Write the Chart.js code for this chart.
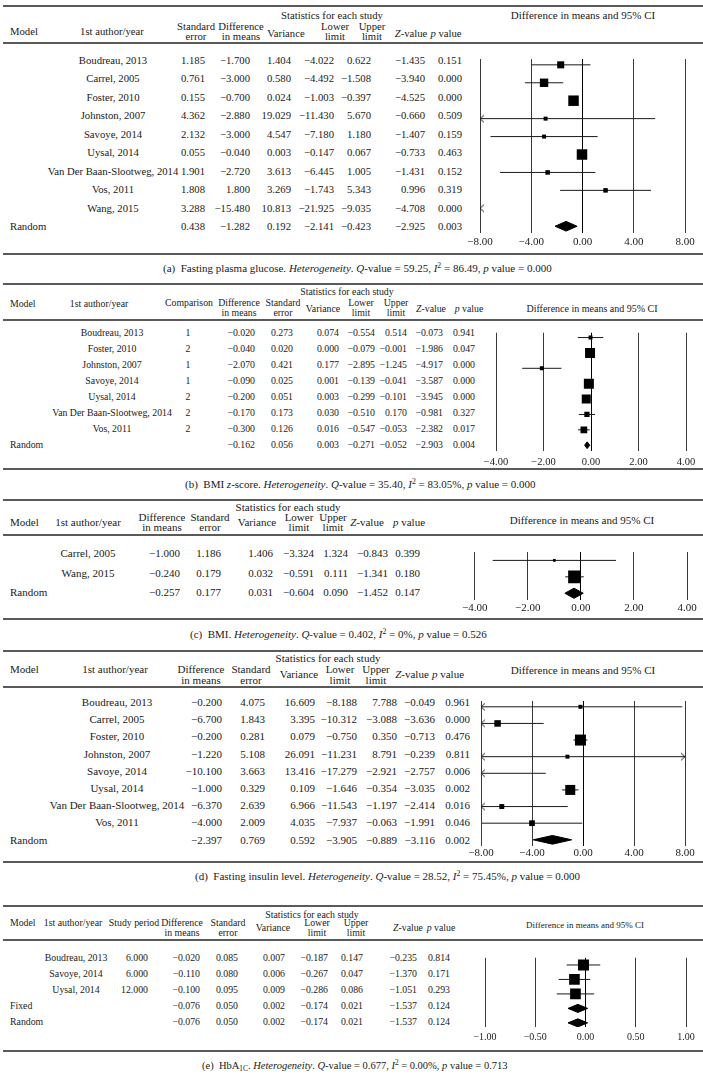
<!DOCTYPE html>
<html><head><meta charset="utf-8">
<script src="https://cdn.jsdelivr.net/npm/chart.js@4.4.0/dist/chart.umd.min.js"></script>
<style>
html,body{margin:0;padding:0;background:#fff;}
#page{position:relative;width:703px;height:1089px;overflow:hidden;font-family:"Liberation Serif","Times New Roman",serif;color:#1a1a1a;background:#fff;}
.t{position:absolute;white-space:nowrap;line-height:1;}
.t sup{font-size:0.7em;vertical-align:0.5em;line-height:0;}
.t sub{font-size:0.7em;vertical-align:-0.25em;line-height:0;}
.rule{position:absolute;left:3px;width:700px;height:1.6px;background:#5a5a5a;}
canvas{position:absolute;}
</style></head><body><div id="page"></div>
<script>
// ---------------- DATA ----------------
// (a) Fasting plasma glucose
const A_AUTHOR = ['Boudreau, 2013','Carrel, 2005','Foster, 2010','Johnston, 2007','Savoye, 2014','Uysal, 2014','Van Der Baan-Slootweg, 2014','Vos, 2011','Wang, 2015'];
const A_SUMMARY = ['Random'];
const A_SE    = [1.185,0.761,0.155,4.362,2.132,0.055,1.901,1.808,3.288,0.438];
const A_DIFF  = [-1.700,-3.000,-0.700,-2.880,-3.000,-0.040,-2.720,1.800,-15.480,-1.282];
const A_VAR   = [1.404,0.580,0.024,19.029,4.547,0.003,3.613,3.269,10.813,0.192];
const A_LOWER = [-4.022,-4.492,-1.003,-11.430,-7.180,-0.147,-6.445,-1.743,-21.925,-2.141];
const A_UPPER = [0.622,-1.508,-0.397,5.670,1.180,0.067,1.005,5.343,-9.035,-0.423];
const A_Z     = [-1.435,-3.940,-4.525,-0.660,-1.407,-0.733,-1.431,0.996,-4.708,-2.925];
const A_P     = [0.151,0.000,0.000,0.509,0.159,0.463,0.152,0.319,0.000,0.003];
const A_WEIGHT = [0.67,0.8,1,0.38,0.38,1,0.43,0.43,0.38];
const A_TICKS = [-8,-4,0,4,8];

// (b) BMI z-score
const B_AUTHOR = ['Boudreau, 2013','Foster, 2010','Johnston, 2007','Savoye, 2014','Uysal, 2014','Van Der Baan-Slootweg, 2014','Vos, 2011'];
const B_SUMMARY = ['Random'];
const B_COMP  = [1,2,1,1,2,2,2,null];
const B_DIFF  = [-0.020,-0.040,-2.070,-0.090,-0.200,-0.170,-0.300,-0.162];
const B_SE    = [0.273,0.020,0.421,0.025,0.051,0.173,0.126,0.056];
const B_VAR   = [0.074,0.000,0.177,0.001,0.003,0.030,0.016,0.003];
const B_LOWER = [-0.554,-0.079,-2.895,-0.139,-0.299,-0.510,-0.547,-0.271];
const B_UPPER = [0.514,-0.001,-1.245,-0.041,-0.101,0.170,-0.053,-0.052];
const B_Z     = [-0.073,-1.986,-4.917,-3.587,-3.945,-0.981,-2.382,-2.903];
const B_P     = [0.941,0.047,0.000,0.000,0.000,0.327,0.017,0.004];
const B_WEIGHT = [0.4,1,0.4,1,0.9,0.53,0.67];
const B_TICKS = [-4,-2,0,2,4];

// (c) BMI
const C_AUTHOR = ['Carrel, 2005','Wang, 2015'];
const C_SUMMARY = ['Random'];
const C_DIFF  = [-1.000,-0.240,-0.257];
const C_SE    = [1.186,0.179,0.177];
const C_VAR   = [1.406,0.032,0.031];
const C_LOWER = [-3.324,-0.591,-0.604];
const C_UPPER = [1.324,0.111,0.090];
const C_Z     = [-0.843,-1.341,-1.452];
const C_P     = [0.399,0.180,0.147];
const C_WEIGHT = [0.21,1];
const C_TICKS = [-4,-2,0,2,4];

// (d) Fasting insulin level
const D_AUTHOR = ['Boudreau, 2013','Carrel, 2005','Foster, 2010','Johnston, 2007','Savoye, 2014','Uysal, 2014','Van Der Baan-Slootweg, 2014','Vos, 2011'];
const D_SUMMARY = ['Random'];
const D_DIFF  = [-0.200,-6.700,-0.200,-1.220,-10.100,-1.000,-6.370,-4.000,-2.397];
const D_SE    = [4.075,1.843,0.281,5.108,3.663,0.329,2.639,2.009,0.769];
const D_VAR   = [16.609,3.395,0.079,26.091,13.416,0.109,6.966,4.035,0.592];
const D_LOWER = [-8.188,-10.312,-0.750,-11.231,-17.279,-1.646,-11.543,-7.937,-3.905];
const D_UPPER = [7.788,-3.088,0.350,8.791,-2.921,-0.354,-1.197,-0.063,-0.889];
const D_Z     = [-0.049,-3.636,-0.713,-0.239,-2.757,-3.035,-2.414,-1.991,-3.116];
const D_P     = [0.961,0.000,0.476,0.811,0.006,0.002,0.016,0.046,0.002];
const D_WEIGHT = [0.36,0.59,1,0.36,0.45,0.91,0.45,0.52];
const D_TICKS = [-8,-4,0,4,8];

// (e) HbA1C
const E_AUTHOR = ['Boudreau, 2013','Savoye, 2014','Uysal, 2014'];
const E_SUMMARY = ['Fixed','Random'];
const E_PERIOD = [6.000,6.000,12.000,null,null];
const E_DIFF  = [-0.020,-0.110,-0.100,-0.076,-0.076];
const E_SE    = [0.085,0.080,0.095,0.050,0.050];
const E_VAR   = [0.007,0.006,0.009,0.002,0.002];
const E_LOWER = [-0.187,-0.267,-0.286,-0.174,-0.174];
const E_UPPER = [0.147,0.047,0.086,0.021,0.021];
const E_Z     = [-0.235,-1.370,-1.051,-1.537,-1.537];
const E_P     = [0.814,0.171,0.293,0.124,0.124];
const E_WEIGHT = [1,0.97,0.97];
const E_TICKS = [-1,-0.5,0,0.5,1];

const CAPTIONS = [
  '(a)&nbsp; Fasting plasma glucose. <i>Heterogeneity</i>. <i>Q</i>-value = 59.25, <i>I</i><sup>2</sup> = 86.49, <i>p</i> value = 0.000',
  '(b)&nbsp; BMI <i>z</i>-score. <i>Heterogeneity</i>. <i>Q</i>-value = 35.40, <i>I</i><sup>2</sup> = 83.05%, <i>p</i> value = 0.000',
  '(c)&nbsp; BMI. <i>Heterogeneity</i>. <i>Q</i>-value = 0.402, <i>I</i><sup>2</sup> = 0%, <i>p</i> value = 0.526',
  '(d)&nbsp; Fasting insulin level. <i>Heterogeneity</i>. <i>Q</i>-value = 28.52, <i>I</i><sup>2</sup> = 75.45%, <i>p</i> value = 0.000',
  '(e)&nbsp; HbA<sub>1C</sub>. <i>Heterogeneity</i>. <i>Q</i>-value = 0.677, <i>I</i><sup>2</sup> = 0.00%, <i>p</i> value = 0.713'
];

// ---------------- HELPERS ----------------
const FONT = '"Liberation Serif","Times New Roman",serif';
const page = document.getElementById('page');
const f3 = v => (v < 0 ? '\u2212' : '') + Math.abs(v).toFixed(3);
const f2 = v => (v < 0 ? '\u2212' : '') + Math.abs(v).toFixed(2);
const fInt = v => String(v);
const AXIS_H = 24;

function txt(x, y, html, align, size) {
  const d = document.createElement('div');
  d.className = 't';
  d.innerHTML = html;
  d.style.fontSize = size + 'px';
  d.style.left = x + 'px';
  d.style.top = y + 'px';
  const tx = align === 'center' ? '-50%' : align === 'right' ? '-100%' : '0';
  d.style.transform = 'translate(' + tx + ',-50%)';
  page.appendChild(d);
}
function rule(y) {
  const d = document.createElement('div');
  d.className = 'rule';
  d.style.top = (y - 0.8) + 'px';
  page.appendChild(d);
}
const HZ = '<i>Z</i>-value', HP = '<i>p</i> value';

function chevron(dir) {
  const c = document.createElement('canvas');
  c.width = 12; c.height = 10;
  const g = c.getContext('2d');
  g.strokeStyle = '#222'; g.lineWidth = 1;
  g.beginPath();
  if (dir < 0) { g.moveTo(10, 1.5); g.lineTo(6, 5); g.lineTo(10, 8.5); }
  else { g.moveTo(2, 1.5); g.lineTo(6, 5); g.lineTo(2, 8.5); }
  g.stroke();
  return c;
}
const CHEV_L = chevron(-1), CHEV_R = chevron(1);

function rowY(P, i) { return P.rowY0 + i * P.step; }

function drawTable(P) {
  rule(P.top); rule(P.head); rule(P.bottom);
  txt(P.statsX, P.statsY, 'Statistics for each study', 'center', P.font);
  txt(10, P.modelY, 'Model', 'left', P.font);
  txt(P.authorHX, P.modelY, '1st author/year', 'center', P.font);
  P.cols.forEach(c => {
    if (c.h.length === 2) {
      txt(c.hx, P.h1, c.h[0], 'center', P.font);
      txt(c.hx, P.h2, c.h[1], 'center', P.font);
    } else {
      txt(c.hx, c.hy !== undefined ? c.hy : P.hm, c.h[0], 'center', P.font);
    }
    c.v.forEach((v, i) => {
      if (v === null || v === undefined) return;
      txt(c.dx, rowY(P, i), (c.fmt || f3)(v), c.align || 'right', P.font);
    });
  });
  P.authors.forEach((a, i) => txt(P.authorDX, rowY(P, i), a, 'center', P.font));
  P.summary.forEach((m, j) => txt(10, rowY(P, P.authors.length + j), m, 'left', P.font));
  txt(P.capX, P.capY, P.caption, 'left', P.capFont);
  txt(P.forest.titleX, P.forest.titleY, 'Difference in means and 95% CI', 'center', P.forest.titleFont);
}

function drawForest(P) {
  const F = P.forest;
  const nStudy = P.authors.length;
  const n = nStudy + P.summary.length;
  const W = 243, H = (F.gridBottom - F.gridTop) + AXIS_H;
  const cv = document.createElement('canvas');
  cv.width = W; cv.height = H;
  cv.style.left = '460px'; cv.style.top = F.gridTop + 'px';
  cv.style.width = W + 'px'; cv.style.height = H + 'px';
  page.appendChild(cv);

  const est = P.diff, lo = P.lower, hi = P.upper;
  const datasets = [];
  // study squares (drawn on top)
  const sq = [], sqR = [];
  for (let i = 0; i < nStudy; i++) {
    if (est[i] >= F.xmin && est[i] <= F.xmax) {
      sq.push({x: est[i], y: i});
      sqR.push(P.weight[i] * F.maxBox / Math.SQRT2);
    }
  }
  datasets.push({data: sq, showLine: false, pointStyle: 'rect', pointRadius: sqR, pointHoverRadius: sqR,
    pointBackgroundColor: '#000', pointBorderColor: '#000', pointBorderWidth: 0, borderWidth: 0});
  // arrows for truncated intervals
  const arL = [], arR = [];
  for (let i = 0; i < n; i++) {
    if (lo[i] < F.xmin) arL.push({x: F.xmin, y: i});
    if (hi[i] > F.xmax) arR.push({x: F.xmax, y: i});
  }
  datasets.push({data: arL, showLine: false, pointStyle: CHEV_L, pointRadius: 4});
  datasets.push({data: arR, showLine: false, pointStyle: CHEV_R, pointRadius: 4});
  // CI lines
  for (let i = 0; i < nStudy; i++) {
    const a = Math.max(lo[i], F.xmin), b = Math.min(hi[i], F.xmax);
    if (a < b) datasets.push({data: [{x: a, y: i}, {x: b, y: i}], borderColor: '#1a1a1a', borderWidth: 1,
      pointRadius: 0, fill: false});
  }
  // summary diamonds (upper half + lower half filled to it)
  const h = F.diamondH / P.step;
  for (let i = nStudy; i < n; i++) {
    datasets.push({data: [{x: lo[i], y: i}, {x: est[i], y: i - h}, {x: hi[i], y: i}],
      borderColor: '#000', borderWidth: 1, pointRadius: 0, fill: false});
    datasets.push({data: [{x: lo[i], y: i}, {x: est[i], y: i + h}, {x: hi[i], y: i}],
      borderColor: '#000', borderWidth: 1, pointRadius: 0, fill: '-1', backgroundColor: '#000'});
  }

  new Chart(cv, {
    type: 'line',
    data: {datasets},
    options: {
      responsive: false, animation: false, events: [],
      layout: {padding: {left: F.px0 - 460, right: 703 - F.px1, top: 0, bottom: 0}},
      plugins: {legend: {display: false}, tooltip: {enabled: false}},
      scales: {
        x: {
          type: 'linear', min: F.xmin, max: F.xmax,
          afterBuildTicks: s => { s.ticks = F.ticks.map(v => ({value: v})); },
          afterFit: s => { s.height = AXIS_H; },
          grid: {color: c => (c.tick && c.tick.value === 0) ? '#000' : '#3a3a3a', lineWidth: 1, drawTicks: false},
          border: {display: false},
          ticks: {autoSkip: false, maxRotation: 0, padding: F.tickPad, color: '#1a1a1a',
            font: {family: FONT, size: F.tickFont}, callback: v => f2(v)}
        },
        y: {type: 'linear', display: false, reverse: true,
          min: (F.gridTop - P.rowY0) / P.step, max: (F.gridBottom - P.rowY0) / P.step}
      }
    }
  });
}

// ---------------- PANELS (layout) ----------------
const PANELS = [
  { // (a)
    font: 10.7, top: 6, head: 43, bottom: 254, capY: 268, capX: 163, capFont: 11, caption: CAPTIONS[0],
    statsX: 332, statsY: 15, h1: 25.5, h2: 36, hm: 33, modelY: 31, authorHX: 112, authorDX: 113,
    rowY0: 60, step: 18.45, authors: A_AUTHOR, summary: A_SUMMARY,
    diff: A_DIFF, lower: A_LOWER, upper: A_UPPER, weight: A_WEIGHT,
    cols: [
      {h: ['Standard', 'error'], hx: 196, dx: 205, v: A_SE},
      {h: ['Difference', 'in means'], hx: 241, dx: 250, v: A_DIFF},
      {h: ['Variance'], hx: 286, dx: 291, v: A_VAR},
      {h: ['Lower', 'limit'], hx: 335, dx: 334, v: A_LOWER},
      {h: ['Upper', 'limit'], hx: 372, dx: 371, v: A_UPPER},
      {h: [HZ], hx: 411, dx: 425, v: A_Z},
      {h: [HP], hx: 446, dx: 462, v: A_P}
    ],
    forest: {titleX: 583, titleY: 15, titleFont: 11, xmin: -8, xmax: 8, ticks: A_TICKS, px0: 480, px1: 685,
      gridTop: 54, gridBottom: 233, tickPad: 3, tickFont: 11, maxBox: 10.5, diamondH: 5}
  },
  { // (b)
    font: 9.8, top: 284, head: 320, bottom: 469, capY: 484, capX: 185, capFont: 11, caption: CAPTIONS[1],
    statsX: 347, statsY: 292, h1: 303, h2: 313, hm: 309, modelY: 304, authorHX: 99, authorDX: 112,
    rowY0: 333, step: 16, authors: B_AUTHOR, summary: B_SUMMARY,
    diff: B_DIFF, lower: B_LOWER, upper: B_UPPER, weight: B_WEIGHT,
    cols: [
      {h: ['Comparison'], hy: 303, hx: 189, dx: 188, v: B_COMP, fmt: fInt, align: 'center'},
      {h: ['Difference', 'in means'], hx: 239, dx: 255, v: B_DIFF},
      {h: ['Standard', 'error'], hx: 283, dx: 293, v: B_SE},
      {h: ['Variance'], hx: 323, dx: 339, v: B_VAR},
      {h: ['Lower', 'limit'], hx: 361, dx: 375, v: B_LOWER},
      {h: ['Upper', 'limit'], hx: 396, dx: 407, v: B_UPPER},
      {h: [HZ], hx: 431, dx: 443, v: B_Z},
      {h: [HP], hx: 469, dx: 475, v: B_P}
    ],
    forest: {titleX: 592, titleY: 309, titleFont: 10, xmin: -4, xmax: 4, ticks: B_TICKS, px0: 496, px1: 686,
      gridTop: 328, gridBottom: 451, tickPad: 5, tickFont: 10.5, maxBox: 10, diamondH: 3.5}
  },
  { // (c)
    font: 11, top: 500, head: 535, bottom: 619, capY: 634, capX: 190, capFont: 11, caption: CAPTIONS[2],
    statsX: 288, statsY: 507, h1: 516.5, h2: 527, hm: 522, modelY: 522, authorHX: 88, authorDX: 88,
    rowY0: 553, step: 19.5, authors: C_AUTHOR, summary: C_SUMMARY,
    diff: C_DIFF, lower: C_LOWER, upper: C_UPPER, weight: C_WEIGHT,
    cols: [
      {h: ['Difference', 'in means'], hx: 162, dx: 180, v: C_DIFF},
      {h: ['Standard', 'error'], hx: 210, dx: 221, v: C_SE},
      {h: ['Variance'], hx: 257, dx: 273, v: C_VAR},
      {h: ['Lower', 'limit'], hx: 299, dx: 314, v: C_LOWER},
      {h: ['Upper', 'limit'], hx: 333, dx: 348, v: C_UPPER},
      {h: [HZ], hx: 367, dx: 388, v: C_Z},
      {h: [HP], hx: 409, dx: 420, v: C_P}
    ],
    forest: {titleX: 582, titleY: 520, titleFont: 11, xmin: -4, xmax: 4, ticks: C_TICKS, px0: 474, px1: 687,
      gridTop: 543, gridBottom: 600, tickPad: 2, tickFont: 11, maxBox: 12.7, diamondH: 6}
  },
  { // (d)
    font: 11, top: 651, head: 687, bottom: 862, capY: 876, capX: 195, capFont: 11, caption: CAPTIONS[3],
    statsX: 328, statsY: 658, h1: 669, h2: 679.5, hm: 674, modelY: 669, authorHX: 115, authorDX: 117,
    rowY0: 702, step: 17.2, authors: D_AUTHOR, summary: D_SUMMARY,
    diff: D_DIFF, lower: D_LOWER, upper: D_UPPER, weight: D_WEIGHT,
    cols: [
      {h: ['Difference', 'in means'], hx: 201, dx: 222, v: D_DIFF},
      {h: ['Standard', 'error'], hx: 251, dx: 265, v: D_SE},
      {h: ['Variance'], hx: 299, dx: 315, v: D_VAR},
      {h: ['Lower', 'limit'], hx: 340, dx: 357, v: D_LOWER},
      {h: ['Upper', 'limit'], hx: 376, dx: 397, v: D_UPPER},
      {h: [HZ], hx: 412, dx: 435, v: D_Z},
      {h: [HP], hx: 448, dx: 470, v: D_P}
    ],
    forest: {titleX: 583, titleY: 670, titleFont: 11, xmin: -8, xmax: 8, ticks: D_TICKS, px0: 481, px1: 685,
      gridTop: 696, gridBottom: 846, tickPad: 1, tickFont: 11, maxBox: 11, diamondH: 4.5}
  },
  { // (e)
    font: 9.8, top: 906, head: 940, bottom: 1051, capY: 1066, capX: 202, capFont: 10.5, caption: CAPTIONS[4],
    statsX: 312, statsY: 915, h1: 923, h2: 933, hm: 928, modelY: 923, authorHX: 73, authorDX: 76,
    rowY0: 958, step: 16.1, authors: E_AUTHOR, summary: E_SUMMARY,
    diff: E_DIFF, lower: E_LOWER, upper: E_UPPER, weight: E_WEIGHT,
    cols: [
      {h: ['Study period'], hy: 923, hx: 134, dx: 148, v: E_PERIOD},
      {h: ['Difference', 'in means'], hx: 182, dx: 200, v: E_DIFF},
      {h: ['Standard', 'error'], hx: 228, dx: 238, v: E_SE},
      {h: ['Variance'], hx: 273, dx: 285, v: E_VAR},
      {h: ['Lower', 'limit'], hx: 317, dx: 328, v: E_LOWER},
      {h: ['Upper', 'limit'], hx: 356, dx: 363, v: E_UPPER},
      {h: [HZ], hx: 408, dx: 417, v: E_Z},
      {h: [HP], hx: 441, dx: 450, v: E_P}
    ],
    forest: {titleX: 585, titleY: 925, titleFont: 9, xmin: -1, xmax: 1, ticks: E_TICKS, px0: 485, px1: 686,
      gridTop: 950, gridBottom: 1027, tickPad: 4, tickFont: 10, maxBox: 11, diamondH: 4.5}
  }
];

PANELS.forEach(P => { drawTable(P); drawForest(P); });
</script>
</body></html>
